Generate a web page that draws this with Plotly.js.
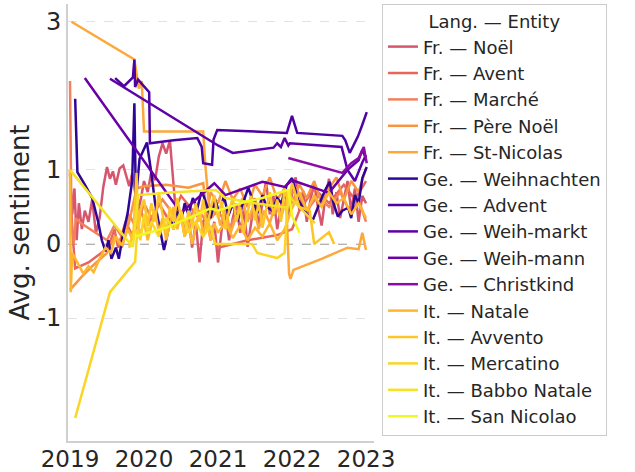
<!DOCTYPE html>
<html>
<head>
<meta charset="utf-8">
<script src="https://cdn.plot.ly/plotly-3.0.1.min.js"></script>
<style>html,body{margin:0;padding:0;background:#fff;}#chart{width:635px;height:472px;}</style>
</head>
<body>
<div id="chart"></div>
<script>
// ---- Data (x = fractional year, y = average sentiment) ----
const seriesNames = ["Fr. — Noël","Fr. — Avent","Fr. — Marché","Fr. — Père Noël","Fr. — St-Nicolas",
  "Ge. — Weihnachten","Ge. — Advent","Ge. — Weih-markt","Ge. — Weih-mann","Ge. — Christkind",
  "It. — Natale","It. — Avvento","It. — Mercatino","It. — Babbo Natale","It. — San Nicolao"];

const frNoelX = [2019.00,2019.03,2019.06,2019.09,2019.12,2019.16,2019.20,2019.25,2019.30,2019.35,2019.40,2019.45,2019.50,2019.54,2019.58,2019.62,2019.67,2019.72,2019.76,2019.80,2019.84,2019.88,2019.92,2019.96,2020.00,2020.05,2020.10,2020.15,2020.20,2020.25,2020.30,2020.35,2020.38,2020.42,2020.45,2020.50,2020.55,2020.60,2020.65,2020.70,2020.75,2020.80,2020.85,2020.90,2020.95,2021.00,2021.05,2021.10,2021.15,2021.20,2021.25,2021.30,2021.35,2021.40,2021.45,2021.50,2021.55,2021.60,2021.65,2021.70,2021.75,2021.80,2021.85,2021.90,2021.95,2022.00,2022.05,2022.10,2022.15,2022.20,2022.25,2022.30,2022.35,2022.40,2022.45,2022.50,2022.55,2022.60,2022.65,2022.70,2022.75,2022.80,2022.85,2022.90,2022.95,2023.00];
const frNoelY = [0.95,0.40,0.75,0.05,0.55,0.20,0.45,0.30,0.60,0.15,0.35,0.77,1.04,0.88,0.98,0.80,1.02,1.06,0.92,0.78,0.95,0.70,0.45,0.62,0.85,0.70,0.98,0.86,1.18,1.36,1.22,1.40,1.00,0.55,0.25,0.45,0.10,0.38,-0.05,0.30,-0.25,0.30,0.40,0.05,0.30,-0.25,0.20,0.42,0.05,0.35,0.55,0.15,0.48,-0.04,0.30,0.62,0.25,0.55,0.85,0.40,0.65,0.20,0.50,0.78,0.35,0.68,0.90,0.45,0.72,0.30,0.60,0.82,0.50,0.25,0.62,0.88,0.40,0.70,0.35,0.58,0.85,0.45,0.75,0.30,0.65,0.55];

const frAventX = [2019.00,2019.03,2019.07,2019.25,2019.45,2019.55,2019.60,2019.65,2019.75,2019.85,2019.95,2020.05,2020.20,2020.35,2020.50,2020.70,2020.90,2021.00,2021.40,2021.80,2022.00,2022.10,2022.30,2022.50,2022.70,2022.85,2023.00];
const frAventY = [1.00,0.20,-0.33,-0.25,-0.10,0.05,0.20,-0.05,0.30,0.10,0.45,0.25,0.55,0.30,0.65,0.40,0.15,-0.05,0.05,0.12,0.20,0.45,0.75,0.55,0.80,0.60,0.85];

const frMarcheX = [2019.00,2019.02,2019.05,2019.08,2019.12,2019.30,2019.50,2019.60,2019.70,2019.80,2019.90,2020.00,2020.10,2020.25,2020.40,2020.55,2020.70,2020.85,2021.00,2021.15,2021.30,2021.45,2021.60,2021.75,2021.90,2022.05,2022.20,2022.35,2022.50,2022.65,2022.80,2022.90,2023.00];
const frMarcheY = [2.20,0.30,0.00,0.35,0.30,0.18,0.05,0.25,0.10,0.40,0.20,0.55,0.35,0.60,0.40,0.25,0.50,0.30,0.45,0.20,0.52,0.35,0.60,0.40,0.55,0.75,0.45,0.65,0.50,0.70,0.40,0.60,0.30];

const frPereNoelX = [2019.00,2019.15,2019.30,2019.50,2019.60,2019.70,2019.80,2019.90,2020.00,2020.30,2020.60,2020.80,2020.85,2020.90,2021.00,2021.10,2021.20,2021.30,2021.40,2021.50,2021.60,2021.70,2021.80,2021.90,2022.00,2022.10,2022.20,2022.30,2022.40,2022.50,2022.60,2022.70,2022.80,2022.90,2023.00];
const frPereNoelY = [-0.62,-0.45,-0.30,-0.12,0.10,-0.05,0.30,0.75,0.78,0.80,0.76,0.82,0.40,0.70,0.55,0.85,0.60,0.75,0.50,0.80,0.65,0.90,0.60,0.75,0.55,0.80,0.62,0.85,0.55,0.75,0.90,0.60,0.85,0.70,1.02];

const frStNicolasX = [2019.02,2019.87,2019.93,2019.97,2020.00,2020.80,2020.83,2020.87,2020.92,2020.97,2021.03,2021.10,2021.17,2021.25,2021.33,2021.40,2021.48,2021.55,2021.62,2021.70,2021.78,2021.85,2021.92,2021.96,2021.98,2022.02,2022.40,2022.75,2022.90,2022.95,2023.00];
const frStNicolasY = [3.00,2.49,2.10,2.20,1.52,1.52,1.05,0.60,0.35,0.55,0.25,0.48,0.15,0.40,0.62,0.30,0.52,0.20,0.45,0.28,0.55,0.35,0.60,-0.40,-0.47,-0.35,-0.20,-0.05,-0.07,0.15,-0.08];

const geWeihnachtenX = [2019.07,2019.10,2019.20,2019.30,2019.38,2019.43,2019.48,2019.52,2019.56,2019.62,2019.66,2019.72,2019.78,2019.84,2019.87,2019.89,2019.94,2019.98,2020.04,2020.10,2020.15,2020.20,2020.24,2020.27,2020.31,2020.36,2020.40,2020.45,2020.50,2020.55,2020.60,2020.66,2020.72,2020.78,2020.84,2020.90,2020.96,2021.02,2021.08,2021.14,2021.20,2021.26,2021.32,2021.41,2021.48,2021.54,2021.60,2021.66,2021.73,2021.80,2021.86,2021.93,2022.00,2022.08,2022.14,2022.20,2022.28,2022.35,2022.41,2022.46,2022.51,2022.56,2022.62,2022.68,2022.76,2022.80,2022.85,2022.90,2022.95,2023.01];
const geWeihnachtenY = [1.96,0.97,0.80,0.62,0.30,0.05,-0.10,0.05,-0.20,-0.05,-0.20,0.15,0.42,0.85,1.90,0.60,1.15,1.23,1.37,0.95,0.55,0.28,0.05,-0.08,0.10,0.35,0.20,0.45,0.30,0.55,0.40,0.62,0.48,0.72,0.55,0.35,0.60,0.42,0.65,0.38,0.55,0.30,0.50,0.76,0.55,0.42,0.66,0.50,0.45,0.62,0.55,0.80,0.89,0.60,0.50,0.40,0.32,0.50,0.64,0.75,0.84,0.55,0.37,0.45,0.49,0.35,0.66,0.55,0.89,1.04];

const geAdventX = [2019.61,2019.73,2019.85,2019.87,2019.88,2019.92,2020.07,2020.08,2020.40,2020.72,2020.78,2020.80,2020.92,2020.94,2020.99,2021.50,2021.93,2022.00,2022.07,2022.68,2022.72,2022.78,2022.84,2022.89,2022.95,2022.98,2023.01];
const geAdventY = [2.24,2.13,2.25,2.49,2.12,2.22,2.05,1.36,1.40,1.43,1.31,1.09,1.07,1.41,1.54,1.52,1.50,1.73,1.50,1.46,1.40,1.23,1.35,1.45,1.61,1.70,1.78];

const geWeihMarktX = [2019.54,2020.93,2021.00,2021.20,2021.50,2021.75,2021.80,2021.85,2021.90,2021.95,2021.97,2022.67,2022.75,2022.85,2022.95,2023.00];
const geWeihMarktY = [2.23,1.38,1.33,1.23,1.27,1.30,1.36,1.31,1.43,1.33,1.36,1.31,1.00,0.85,1.10,1.20];

const geWeihMannX = [2019.20,2020.50,2020.95,2021.10,2021.60,2021.90,2022.00,2022.50,2022.75,2022.90,2022.95,2023.00];
const geWeihMannY = [2.24,0.42,0.82,0.66,0.84,0.77,0.86,0.69,1.00,1.13,1.27,1.15];

const geChristkindX = [2021.95,2022.68,2022.80,2022.90,2022.97,2023.01];
const geChristkindY = [1.16,0.96,1.09,1.16,1.31,1.09];

const itNataleX = [2019.00,2019.01,2019.03,2019.10,2019.18,2019.25,2019.32,2019.40,2019.48,2019.55,2019.62,2019.70,2019.78,2019.85,2019.90,2019.95,2020.00,2020.05,2020.10,2020.15,2020.20,2020.25,2020.30,2020.35,2020.40,2020.45,2020.50,2020.55,2020.60,2020.65,2020.70,2020.75,2020.80,2020.85,2020.90,2020.95,2021.00,2021.10,2021.20,2021.30,2021.40,2021.50,2021.60,2021.70,2021.80,2021.90,2022.00,2022.10,2022.20,2022.30,2022.40,2022.50,2022.60,2022.70,2022.80,2022.90,2023.00];
const itNataleY = [1.00,-0.65,-0.12,-0.25,-0.40,-0.30,-0.38,-0.20,-0.05,-0.12,0.10,-0.02,0.20,0.05,0.35,0.12,0.30,0.05,0.25,0.45,0.15,0.35,0.05,0.28,0.50,0.20,0.40,0.10,0.30,0.00,0.25,0.45,0.12,0.35,0.05,0.28,0.15,0.30,0.08,0.25,0.05,0.22,0.10,0.28,0.05,0.20,0.48,0.70,0.45,0.65,0.50,0.70,0.55,0.62,0.40,0.55,0.35];

const itAvventoX = [2019.80,2019.86,2019.90,2019.92,2019.95,2020.00,2020.05,2020.10,2020.15,2020.20,2020.25,2020.30,2020.35,2020.40,2020.45,2020.50,2020.55,2020.60,2020.65,2020.70,2020.75,2020.80,2020.85,2020.90,2020.95,2021.00,2021.05,2021.10,2021.15,2021.20,2021.25,2021.30,2021.35,2021.40,2021.45,2021.50,2021.55,2021.60,2021.65,2021.70,2021.75,2021.80,2021.85,2021.90,2021.95,2022.00,2022.10,2022.24,2022.30,2022.50,2022.57];
const itAvventoY = [-0.05,0.20,0.96,0.10,0.45,0.60,0.25,0.55,0.30,0.70,0.40,0.15,0.50,0.30,0.62,0.35,0.10,0.45,0.25,0.55,0.30,0.60,0.20,0.48,0.66,0.35,0.58,0.20,0.45,0.62,0.30,0.50,0.15,0.42,0.65,0.32,0.55,0.22,0.48,0.70,0.40,0.60,0.30,0.75,0.55,0.82,0.50,0.45,0.00,0.16,0.00];

const itMercatinoX = [2019.07,2019.54,2019.88,2019.91,2019.95,2020.00,2020.05,2020.10,2020.20,2020.30,2020.40,2020.50,2020.60,2020.70,2020.80,2020.90,2020.96,2021.46,2021.53,2021.80,2021.90,2021.95,2022.00,2022.31];
const itMercatinoY = [-2.35,-0.65,-0.24,0.19,0.05,0.40,0.15,0.30,0.10,0.35,0.20,0.45,0.15,0.30,0.10,0.25,0.00,0.00,-0.12,-0.19,-0.12,0.70,0.60,0.28];

const itBabboNataleX = [2019.00,2019.85,2019.92,2020.40,2020.97,2021.10,2021.50,2021.95];
const itBabboNataleY = [1.00,-0.04,0.66,0.70,0.73,0.62,0.55,0.49];

const itSanNicolaoX = [2019.88,2020.30,2020.60,2020.90,2021.00,2021.30,2021.60,2021.95,2022.00,2022.10];
const itSanNicolaoY = [0.10,0.22,0.35,0.48,0.45,0.55,0.62,0.73,0.38,0.15];

const seriesColors = ["#d6566e","#e8655d","#f2825e","#f89540","#fca83a",
  "#2f0596","#4e02a2","#5e01a6","#6c00a8","#8c0da5",
  "#feb62e","#fdc527","#fbd524","#f4e226","#eff821"];

const tickYears = [2019,2020,2021,2022,2023];
const yTickVals = [-1,0,1,3];
const yTickText = ["-1","0","1","3"];

// ---- Build traces ----
const xs = [frNoelX,frAventX,frMarcheX,frPereNoelX,frStNicolasX,geWeihnachtenX,geAdventX,geWeihMarktX,geWeihMannX,geChristkindX,itNataleX,itAvventoX,itMercatinoX,itBabboNataleX,itSanNicolaoX];
const ys = [frNoelY,frAventY,frMarcheY,frPereNoelY,frStNicolasY,geWeihnachtenY,geAdventY,geWeihMarktY,geWeihMannY,geChristkindY,itNataleY,itAvventoY,itMercatinoY,itBabboNataleY,itSanNicolaoY];

const traces = seriesNames.map((n,i)=>({
  type:'scatter', mode:'lines', name:n, x:xs[i], y:ys[i],
  line:{color:seriesColors[i], width:2.5}
}));

const font = {family:'"DejaVu Sans", sans-serif', color:'#262626'};

const layout = {
  width:635, height:472,
  margin:{l:68, r:261, t:4, b:31, pad:0},
  paper_bgcolor:'#ffffff', plot_bgcolor:'#ffffff',
  font:Object.assign({size:18}, font),
  showlegend:true,
  xaxis:{
    range:[2018.973, 2023.108],
    tickvals:tickYears, ticktext:tickYears.map(String),
    tickfont:Object.assign({}, font, {size:23}),
    ticklabelstandoff:-4,
    showgrid:false, zeroline:false,
    showline:true, linecolor:'#d0d0d0', linewidth:2,
    ticks:''
  },
  yaxis:{
    range:[-2.66, 3.24],
    tickvals:yTickVals, ticktext:yTickText,
    tickfont:Object.assign({}, font, {size:24}),
    showgrid:true, gridcolor:'#e2e2e2', griddash:'dash', gridwidth:1,
    zeroline:false,
    showline:true, linecolor:'#d0d0d0', linewidth:2,
    ticks:'',
    title:{text:'Avg. sentiment', font:Object.assign({}, font, {size:26}), standoff:0}
  },
  shapes:[{type:'line', xref:'paper', x0:0, x1:1, yref:'y', y0:0, y1:0,
    line:{color:'#999999', width:1.5, dash:'dash'}, layer:'below'}],
  legend:{
    x:1.026, y:1.0, xanchor:'left', yanchor:'top',
    bordercolor:'#cccccc', borderwidth:1, bgcolor:'#ffffff',
    font:Object.assign({}, font, {size:18}),
    title:{text:'Lang. — Entity', side:'top center', font:Object.assign({}, font, {size:18})},
    tracegroupgap:0, itemwidth:30,
    entrywidth:240, entrywidthmode:'pixels'
  }
};

Plotly.newPlot('chart', traces, layout, {displayModeBar:false, staticPlot:true});
</script>
</body>
</html>
